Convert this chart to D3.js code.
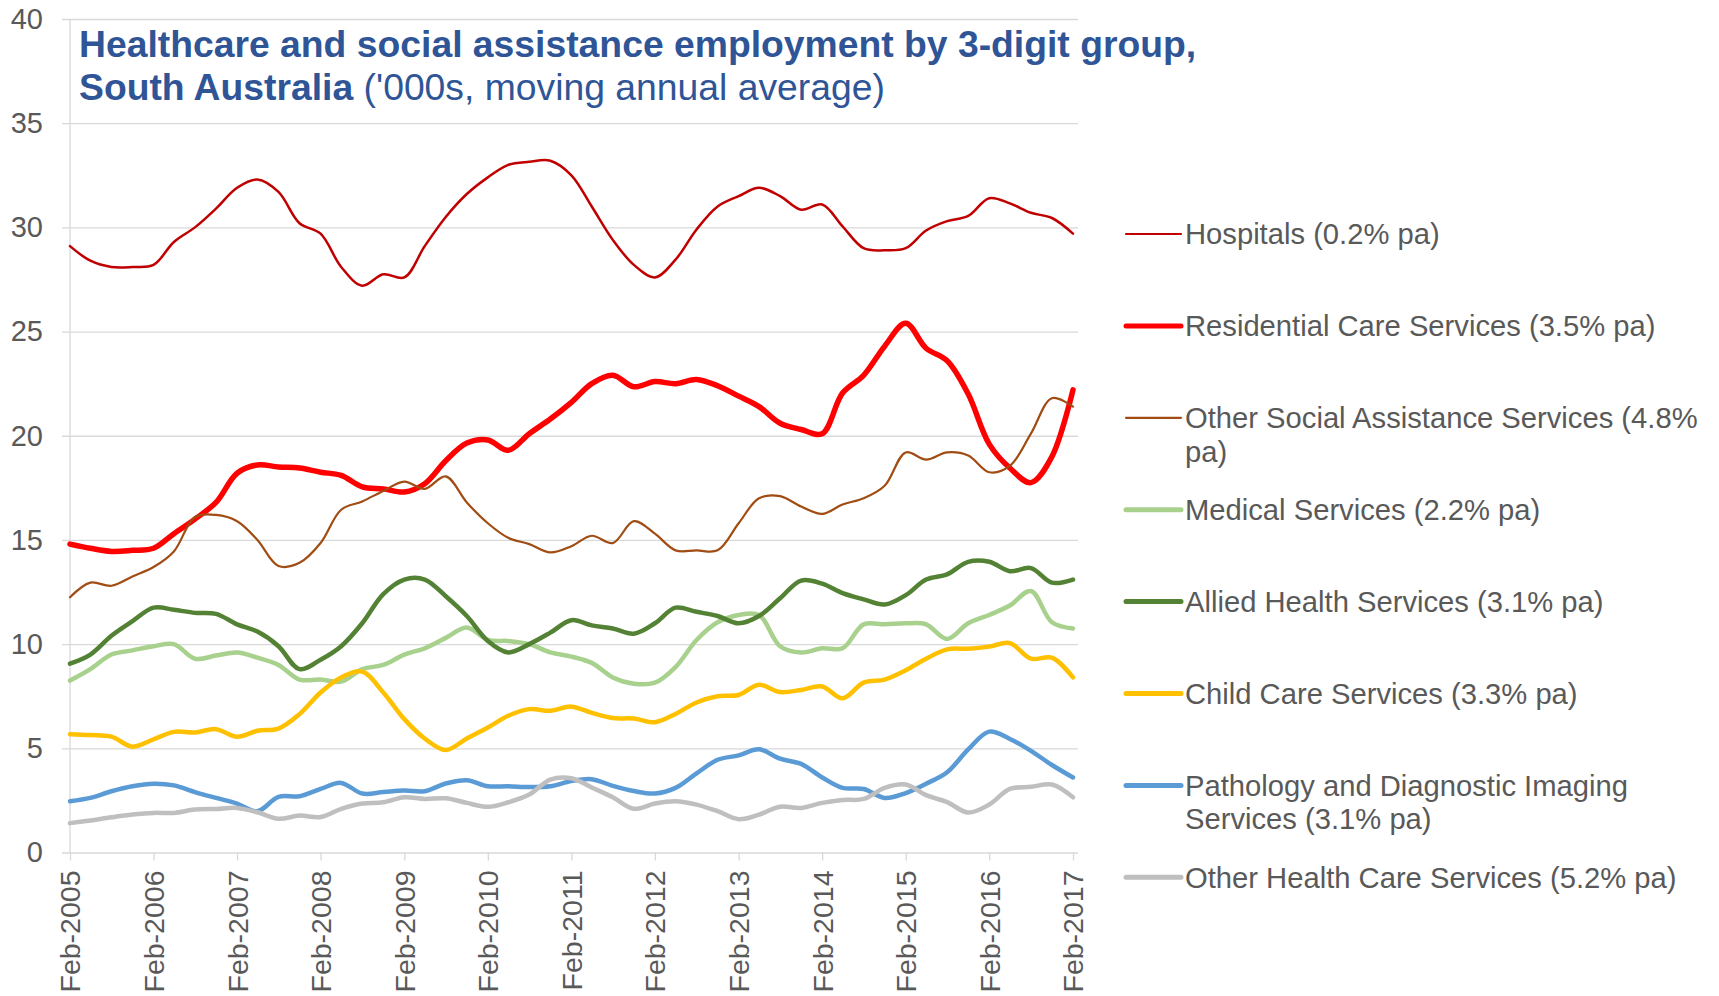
<!DOCTYPE html>
<html>
<head>
<meta charset="utf-8">
<script src="https://cdnjs.cloudflare.com/ajax/libs/d3/7.8.5/d3.min.js"></script>
<style>
  body { margin: 0; background: #fff; }
  text { font-family: "Liberation Sans", Arial, sans-serif; }
</style>
</head>
<body>
<div id="chart"></div>
<script>
// Quarterly categories (moving annual average)
var quarters = [
  "Feb-2005","May-2005","Aug-2005","Nov-2005","Feb-2006","May-2006","Aug-2006","Nov-2006",
  "Feb-2007","May-2007","Aug-2007","Nov-2007","Feb-2008","May-2008","Aug-2008","Nov-2008",
  "Feb-2009","May-2009","Aug-2009","Nov-2009","Feb-2010","May-2010","Aug-2010","Nov-2010",
  "Feb-2011","May-2011","Aug-2011","Nov-2011","Feb-2012","May-2012","Aug-2012","Nov-2012",
  "Feb-2013","May-2013","Aug-2013","Nov-2013","Feb-2014","May-2014","Aug-2014","Nov-2014",
  "Feb-2015","May-2015","Aug-2015","Nov-2015","Feb-2016","May-2016","Aug-2016","Nov-2016",
  "Feb-2017"
];

// Series values ('000s)
var hospitals = [29.1,28.4,28.1,28.1,28.2,29.3,30.0,30.9,31.9,32.3,31.7,30.2,29.7,28.1,27.2,27.75,27.6,29.1,30.5,31.6,32.4,33.0,33.15,33.2,32.5,31.0,29.4,28.2,27.6,28.45,29.9,31.0,31.5,31.9,31.5,30.85,31.1,30.05,29.0,28.9,29.0,29.85,30.3,30.55,31.4,31.15,30.7,30.45,29.7];
var residential = [14.8,14.6,14.45,14.5,14.6,15.3,16.0,16.8,18.2,18.6,18.5,18.45,18.25,18.1,17.55,17.45,17.3,17.7,18.8,19.65,19.8,19.3,20.1,20.8,21.6,22.5,22.9,22.35,22.6,22.5,22.7,22.4,21.9,21.4,20.6,20.3,20.1,22.05,22.9,24.3,25.4,24.2,23.6,22.0,19.6,18.45,17.75,19.0,22.2];
var otherSocial = [12.25,12.95,12.8,13.25,13.7,14.45,16.1,16.2,15.9,15.0,13.75,13.9,14.85,16.45,16.85,17.35,17.8,17.45,18.05,16.8,15.8,15.1,14.8,14.4,14.7,15.2,14.85,15.9,15.3,14.5,14.5,14.5,15.8,17.0,17.1,16.6,16.25,16.7,17.0,17.6,19.2,18.85,19.2,19.05,18.25,18.55,20.1,21.8,21.4];
var medical = [8.25,8.8,9.5,9.7,9.9,10.0,9.3,9.45,9.6,9.35,9.0,8.3,8.3,8.2,8.8,9.0,9.5,9.8,10.3,10.8,10.2,10.15,10.0,9.6,9.4,9.1,8.4,8.1,8.15,8.9,10.2,11.05,11.4,11.4,9.9,9.6,9.8,9.8,10.95,10.95,11.0,10.95,10.25,11.0,11.4,11.85,12.55,11.05,10.75];
var allied = [9.06,9.5,10.4,11.1,11.75,11.65,11.5,11.45,10.95,10.6,9.9,8.8,9.25,9.9,11.0,12.4,13.1,13.1,12.3,11.35,10.15,9.6,10.0,10.55,11.15,10.9,10.75,10.5,11.0,11.75,11.55,11.35,11.0,11.35,12.2,13.05,12.9,12.45,12.15,11.9,12.35,13.1,13.35,13.95,13.95,13.5,13.65,12.95,13.1];
var childCare = [5.68,5.64,5.56,5.08,5.43,5.79,5.76,5.92,5.56,5.84,5.95,6.64,7.68,8.4,8.68,7.68,6.4,5.47,4.92,5.47,6.0,6.56,6.88,6.8,7.0,6.7,6.45,6.43,6.25,6.65,7.2,7.5,7.56,8.05,7.7,7.8,7.97,7.4,8.15,8.3,8.75,9.3,9.75,9.78,9.88,10.05,9.3,9.35,8.4];
var pathology = [2.46,2.62,2.94,3.18,3.3,3.22,2.9,2.62,2.35,1.98,2.67,2.7,3.05,3.34,2.83,2.9,2.97,2.94,3.31,3.47,3.18,3.18,3.14,3.18,3.43,3.52,3.2,2.95,2.83,3.1,3.8,4.45,4.66,4.95,4.5,4.25,3.6,3.1,3.05,2.62,2.85,3.3,3.85,4.95,5.8,5.45,4.88,4.2,3.6];
var otherHealth = [1.41,1.54,1.69,1.82,1.9,1.9,2.06,2.09,2.14,1.93,1.62,1.77,1.7,2.09,2.35,2.41,2.65,2.57,2.6,2.38,2.19,2.41,2.78,3.5,3.56,3.12,2.65,2.1,2.35,2.46,2.3,1.98,1.6,1.82,2.2,2.14,2.38,2.52,2.57,3.1,3.26,2.75,2.42,1.92,2.3,3.05,3.15,3.26,2.65];

var seriesNames = [
  "Hospitals (0.2% pa)",
  "Residential Care Services (3.5% pa)",
  "Other Social Assistance Services (4.8% pa)",
  "Medical Services (2.2% pa)",
  "Allied Health Services (3.1% pa)",
  "Child Care Services (3.3% pa)",
  "Pathology and Diagnostic Imaging Services (3.1% pa)",
  "Other Health Care Services (5.2% pa)"
];
var seriesValues = [hospitals, residential, otherSocial, medical, allied, childCare, pathology, otherHealth];
var seriesColors = ["#C00000", "#FF0000", "#A04C12", "#A9D18E", "#548235", "#FFC000", "#5B9BD5", "#BFBFBF"];
var seriesWidths = [2.5, 5.5, 2.2, 4.5, 4.5, 4.5, 4.5, 4.5];

var yTicks = [0, 5, 10, 15, 20, 25, 30, 35, 40];

// SVG area
var svgWidth = 1719;
var svgHeight = 996;
var plotLeft = 70, plotRight = 1073, gridRight = 1078;
var plotTop = 19, plotBottom = 852.5;

var svg = d3.select("#chart")
  .append("svg")
  .attr("width", svgWidth)
  .attr("height", svgHeight);

var parseQ = d3.timeParse("%b-%Y");
var dates = quarters.map(parseQ);

var xTimeScale = d3.scaleTime()
  .domain([dates[0], dates[dates.length - 1]])
  .range([plotLeft, plotRight]);

var yLinearScale = d3.scaleLinear()
  .domain([0, 40])
  .range([plotBottom, plotTop]);

// horizontal gridlines (with the small tick stubs on the left)
var grid = svg.append("g")
  .attr("transform", "translate(" + (plotLeft - 8) + ",0)")
  .call(d3.axisRight(yLinearScale).tickValues(yTicks).tickSize(gridRight - plotLeft + 8).tickFormat(""));
grid.select(".domain").remove();
grid.selectAll("line").attr("stroke", "#D9D9D9").attr("stroke-width", 1.3);

// vertical axis line
svg.append("line")
  .attr("x1", plotLeft).attr("x2", plotLeft)
  .attr("y1", plotTop).attr("y2", plotBottom)
  .attr("stroke", "#D9D9D9").attr("stroke-width", 1.3);

// y labels
var leftAxis = svg.append("g")
  .attr("transform", "translate(" + plotLeft + ",0)")
  .call(d3.axisLeft(yLinearScale).tickValues(yTicks).tickSize(0).tickPadding(27));
leftAxis.select(".domain").remove();
leftAxis.selectAll("text")
  .style("font-size", "29px")
  .style("font-family", "'Liberation Sans', Arial, sans-serif")
  .attr("fill", "#595959");

// x axis with rotated labels
var febDates = dates.filter(function(d) { return d.getMonth() === 1; });
var bottomAxis = svg.append("g")
  .attr("transform", "translate(0," + plotBottom + ")")
  .call(d3.axisBottom(xTimeScale).tickValues(febDates).tickSize(8).tickSizeOuter(0)
    .tickFormat(d3.timeFormat("%b-%Y")));
bottomAxis.select(".domain").remove();
bottomAxis.selectAll("line").attr("stroke", "#D9D9D9").attr("stroke-width", 1.3);
bottomAxis.selectAll("text")
  .style("font-size", "28.5px")
  .style("font-family", "'Liberation Sans', Arial, sans-serif")
  .attr("fill", "#595959")
  .style("text-anchor", "end")
  .attr("transform", "rotate(-90)")
  .attr("x", -18)
  .attr("y", 0)
  .attr("dy", "0.35em");

// lines
var drawLine = d3.line()
  .x(function(d) { return xTimeScale(d.date); })
  .y(function(d) { return yLinearScale(d.value); })
  .curve(d3.curveCatmullRom.alpha(0.5));

seriesValues.forEach(function(vals, i) {
  var pts = vals.map(function(v, j) { return { date: dates[j], value: v }; });
  svg.append("path")
    .attr("d", drawLine(pts))
    .attr("fill", "none")
    .attr("stroke", seriesColors[i])
    .attr("stroke-width", seriesWidths[i])
    .attr("stroke-linejoin", "round")
    .attr("stroke-linecap", "round");
});

// title
var title = svg.append("text")
  .attr("x", 79).attr("y", 57)
  .attr("fill", "#2F5597")
  .style("font-size", "37.3px");
title.append("tspan").style("font-weight", "bold")
  .text("Healthcare and social assistance employment by 3-digit group,");
var title2 = svg.append("text")
  .attr("x", 79).attr("y", 100)
  .attr("fill", "#2F5597")
  .style("font-size", "37.3px");
title2.append("tspan").style("font-weight", "bold").text("South Australia");
title2.append("tspan").text(" ('000s, moving annual average)");

// legend
var legendTop = 234, legendStep = 91.9, wrapWidth = 540;
seriesNames.forEach(function(name, i) {
  var ly = legendTop + i * legendStep;
  var g = svg.append("g");
  g.append("line")
    .attr("x1", 1126).attr("x2", 1181)
    .attr("y1", ly).attr("y2", ly)
    .attr("stroke", seriesColors[i])
    .attr("stroke-width", i === 0 || i === 2 ? 2.2 : 5)
    .attr("stroke-linecap", "round");
  var txt = g.append("text")
    .attr("x", 1185).attr("y", ly)
    .attr("dy", "0.35em")
    .attr("fill", "#595959")
    .style("font-size", "29.2px");
  // simple word wrap
  var words = name.split(" ");
  var line = [];
  var tspan = txt.append("tspan").attr("x", 1185);
  words.forEach(function(w) {
    line.push(w);
    tspan.text(line.join(" "));
    if (tspan.node().getComputedTextLength() > wrapWidth && line.length > 1) {
      line.pop();
      tspan.text(line.join(" "));
      line = [w];
      tspan = txt.append("tspan").attr("x", 1185).attr("dy", 33.5).text(w);
    }
  });
});
</script>
</body>
</html>
